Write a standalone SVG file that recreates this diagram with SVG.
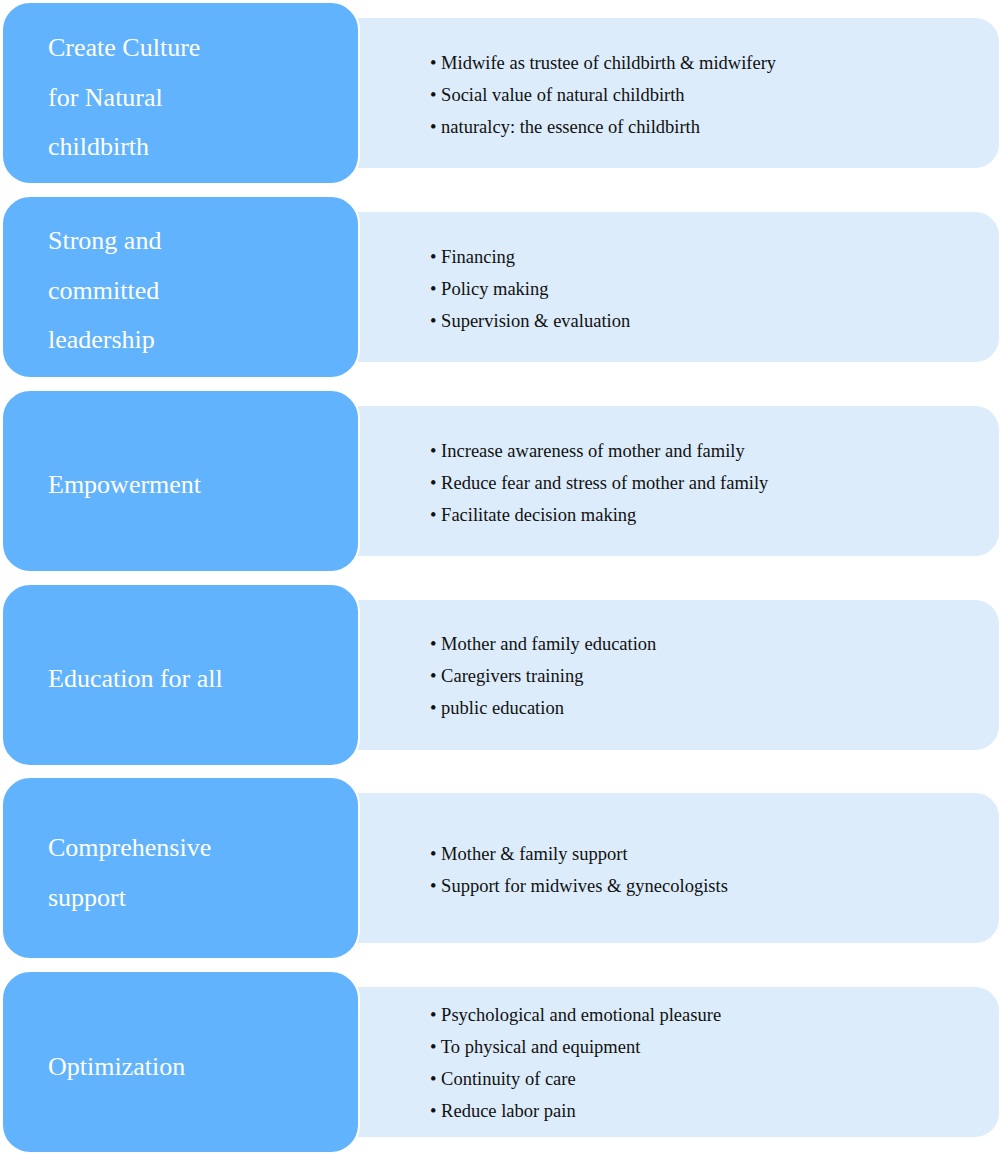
<svg xmlns="http://www.w3.org/2000/svg" width="1000" height="1155" viewBox="0 0 1000 1155">
<style>
.bg{fill:#dcecfa;}
.hd{fill:#62b3fd;stroke:#ffffff;stroke-width:2;}
.t{font-family:"Liberation Serif","DejaVu Serif",serif;font-size:26px;fill:#ffffff;}
.b{font-family:"Liberation Serif","DejaVu Serif",serif;font-size:18.5px;fill:#111111;}
</style>
<rect width="1000" height="1155" fill="#ffffff"/>
<g id="row1">
<rect class="bg" x="330" y="18" width="669" height="150" rx="24"/>
<rect class="hd" x="2" y="2" width="357" height="182" rx="28"/>
<text class="t" x="48" y="56">Create Culture</text>
<text class="t" x="48" y="106">for Natural</text>
<text class="t" x="48" y="155">childbirth</text>
<text class="b" x="430" y="69">• Midwife as trustee of childbirth &amp; midwifery</text>
<text class="b" x="430" y="101">• Social value of natural childbirth</text>
<text class="b" x="430" y="133">• naturalcy: the essence of childbirth</text>
</g>
<g id="row2">
<rect class="bg" x="330" y="212" width="669" height="150" rx="24"/>
<rect class="hd" x="2" y="196" width="357" height="182" rx="28"/>
<text class="t" x="48" y="249">Strong and</text>
<text class="t" x="48" y="299">committed</text>
<text class="t" x="48" y="348">leadership</text>
<text class="b" x="430" y="263">• Financing</text>
<text class="b" x="430" y="295">• Policy making</text>
<text class="b" x="430" y="327">• Supervision &amp; evaluation</text>
</g>
<g id="row3">
<rect class="bg" x="330" y="406" width="669" height="150" rx="24"/>
<rect class="hd" x="2" y="390" width="357" height="182" rx="28"/>
<text class="t" x="48" y="493">Empowerment</text>
<text class="b" x="430" y="457">• Increase awareness of mother and family</text>
<text class="b" x="430" y="489">• Reduce fear and stress of mother and family</text>
<text class="b" x="430" y="521">• Facilitate decision making</text>
</g>
<g id="row4">
<rect class="bg" x="330" y="600" width="669" height="150" rx="24"/>
<rect class="hd" x="2" y="584" width="357" height="182" rx="28"/>
<text class="t" x="48" y="687">Education for all</text>
<text class="b" x="430" y="650">• Mother and family education</text>
<text class="b" x="430" y="682">• Caregivers training</text>
<text class="b" x="430" y="714">• public education</text>
</g>
<g id="row5">
<rect class="bg" x="330" y="793" width="669" height="150" rx="24"/>
<rect class="hd" x="2" y="777" width="357" height="182" rx="28"/>
<text class="t" x="48" y="856">Comprehensive</text>
<text class="t" x="48" y="906">support</text>
<text class="b" x="430" y="860">• Mother &amp; family support</text>
<text class="b" x="430" y="892">• Support for midwives &amp; gynecologists</text>
</g>
<g id="row6">
<rect class="bg" x="330" y="987" width="669" height="150" rx="24"/>
<rect class="hd" x="2" y="971" width="357" height="182" rx="28"/>
<text class="t" x="48" y="1075">Optimization</text>
<text class="b" x="430" y="1021">• Psychological and emotional pleasure</text>
<text class="b" x="430" y="1053">• To physical and equipment</text>
<text class="b" x="430" y="1085">• Continuity of care</text>
<text class="b" x="430" y="1117">• Reduce labor pain</text>
</g>
<g id="connectors"></g>
</svg>
